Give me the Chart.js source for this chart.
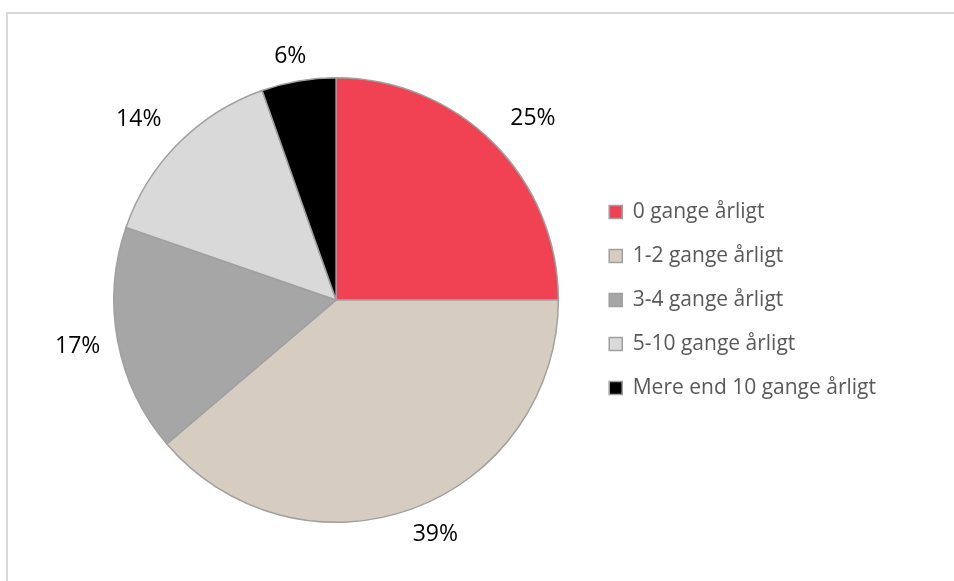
<!DOCTYPE html>
<html>
<head>
<meta charset="utf-8">
<script src="https://cdn.jsdelivr.net/npm/chart.js@4/dist/chart.umd.min.js"></script>
<style>
  html, body { margin: 0; padding: 0; background: #fff; overflow: hidden; }
  #frame { position: absolute; left: 6px; top: 12px; width: 980px; height: 620px; border: 2px solid #d9d9d9; box-sizing: border-box; }
  #wrap { position: absolute; left: 0; top: 0; width: 954px; height: 581px; }
</style>
</head>
<body>
<div id="frame"></div>
<div id="wrap"><canvas id="pie"></canvas></div>
<script>
const categories = ["0 gange årligt", "1-2 gange årligt", "3-4 gange årligt", "5-10 gange årligt", "Mere end 10 gange årligt"];
const shares = [25, 38.8, 16.5, 14.3, 5.4];
const shareLabels = ["25%", "39%", "17%", "14%", "6%"];
const sliceColors = ["#f04252", "#d6cdc0", "#a6a6a6", "#d9d9d9", "#000000"];

const labelFont = "23px 'Open Sans', sans-serif";

// percentage labels outside each slice, box edge pushed off the rim like Excel's outside-end
const outsideLabels = {
  id: "outsideLabels",
  afterDatasetsDraw(chart) {
    const ctx = chart.ctx;
    const meta = chart.getDatasetMeta(0);
    ctx.save();
    ctx.font = labelFont;
    ctx.fillStyle = "#000";
    ctx.textAlign = "center";
    ctx.textBaseline = "middle";
    meta.data.forEach((arc, i) => {
      const p = arc.getProps(["x", "y", "startAngle", "endAngle", "outerRadius"], true);
      const mid = (p.startAngle + p.endAngle) / 2;
      const w = ctx.measureText(shareLabels[i]).width;
      const h = 14;
      const dx = Math.cos(mid);
      const dy = Math.sin(mid);
      const gap = 14 + 10 * Math.abs(Math.sin(2 * mid));
      const reach = p.outerRadius + gap;
      const sx = Math.max(-1, Math.min(1, dx * 2));
      const sy = Math.max(-1, Math.min(1, dy * 2));
      ctx.fillText(shareLabels[i], p.x + dx * reach + sx * w / 2, p.y + dy * reach + sy * h / 2);
    });
    ctx.restore();
  },
};

new Chart(document.getElementById("pie"), {
  type: "pie",
  data: {
    labels: categories,
    datasets: [{
      data: shares,
      backgroundColor: sliceColors,
      borderColor: "#a0a0a0",
      borderWidth: 1.5,
    }],
  },
  options: {
    responsive: true,
    maintainAspectRatio: false,
    animation: false,
    layout: { padding: { top: 77, bottom: 58, left: 86, right: 68 } },
    plugins: {
      tooltip: { enabled: false },
      legend: {
        position: "right",
        labels: {
          boxWidth: 13,
          boxHeight: 13,
          padding: 23,
          color: "#595959",
          font: { family: "'Open Sans', sans-serif", size: 21 },
        },
      },
    },
  },
  plugins: [outsideLabels],
});
</script>
</body>
</html>
